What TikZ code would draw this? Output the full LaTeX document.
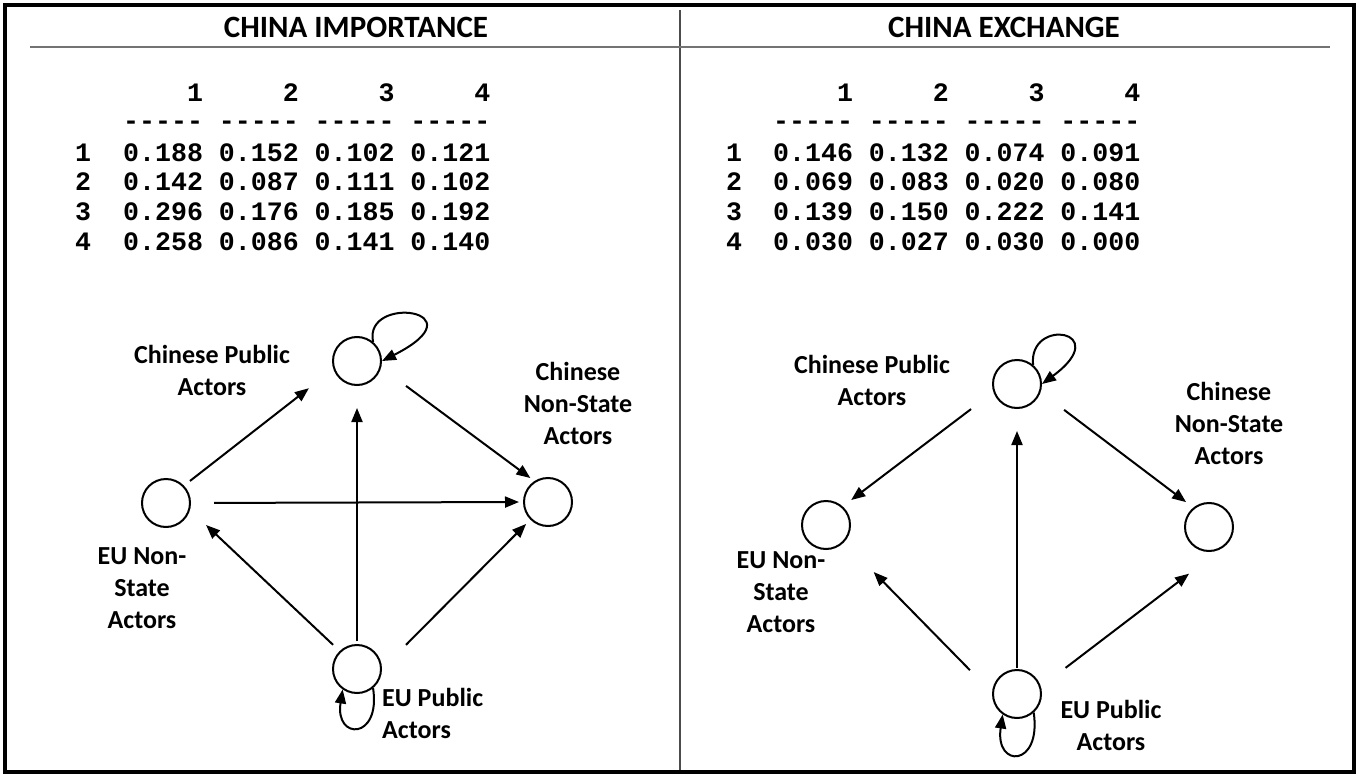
\documentclass[tikz,border=0pt]{standalone}
\usepackage{fontspec}
\newfontfamily\lblfont{Carlito}
\newfontfamily\tabfont{Liberation Mono}
\usetikzlibrary{arrows.meta}
\newcommand\dsh{-\kern0pt-\kern0pt-\kern0pt-\kern0pt-}
\newcommand\hd[1]{\hphantom{0.18}#1}
\begin{document}
\begin{tikzpicture}[x=1pt,y=-1pt,
 nd/.style={circle,draw,line width=2pt,minimum size=48pt,inner sep=0pt},
 ed/.style={line width=2pt,-{Triangle[length=14pt,width=11pt]}},
 lab/.style={font=\lblfont\bfseries\fontsize{26}{32}\selectfont,align=center,inner sep=0pt},
 ttl/.style={font=\lblfont\bfseries\fontsize{31}{36}\selectfont,inner sep=0pt,anchor=base},
 tab/.style={font=\tabfont\bfseries\fontsize{26.6}{30}\selectfont,inner sep=0pt,anchor=base west},
 rl/.style={font=\tabfont\bfseries\fontsize{26.6}{30}\selectfont,inner sep=0pt,anchor=base},
 rulel/.style={line width=2pt,color=black!55}]
\useasboundingbox (0,0) rectangle (1359,778);
% frame and dividers
\draw[line width=4pt] (5,5) rectangle (1354,772);
\draw[line width=1.6pt,color=black!70] (680,10) -- (680,770);
\draw[rulel] (30,47) -- (680,47);
\draw[rulel] (680,47) -- (1330,47);
% titles
\node[ttl] (t1) at (356,38) {CHINA IMPORTANCE};
\node[ttl] (t2) at (1004,38) {CHINA EXCHANGE};
% left table
\node[tab] (lh) at (123,102) {\hd1 \hd2 \hd3 \hd4};
\node[tab] (ld) at (123,130) {\dsh\ \dsh\ \dsh\ \dsh};
\node[tab] (lr1) at (123,162) {0.188 0.152 0.102 0.121};
\node[tab] (lr2) at (123,191) {0.142 0.087 0.111 0.102};
\node[tab] (lr3) at (123,220) {0.296 0.176 0.185 0.192};
\node[tab] (lr4) at (123,250) {0.258 0.086 0.141 0.140};
\node[rl] (ll1) at (83,162) {1};
\node[rl] (ll2) at (83,191) {2};
\node[rl] (ll3) at (83,220) {3};
\node[rl] (ll4) at (83,250) {4};
% right table
\node[tab] (rh) at (773,102) {\hd1 \hd2 \hd3 \hd4};
\node[tab] (rd) at (773,130) {\dsh\ \dsh\ \dsh\ \dsh};
\node[tab] (rr1) at (773,162) {0.146 0.132 0.074 0.091};
\node[tab] (rr2) at (773,191) {0.069 0.083 0.020 0.080};
\node[tab] (rr3) at (773,220) {0.139 0.150 0.222 0.141};
\node[tab] (rr4) at (773,250) {0.030 0.027 0.030 0.000};
\node[rl] (rl1) at (734,162) {1};
\node[rl] (rl2) at (734,191) {2};
\node[rl] (rl3) at (734,220) {3};
\node[rl] (rl4) at (734,250) {4};
% left graph nodes
\node[nd] (lcp) at (357,361) {};
\node[nd] (leuns) at (166,503) {};
\node[nd] (lcns) at (548,502) {};
\node[nd] (leup) at (357,669) {};
\node[lab] (lcpl) at (212,370) {Chinese Public\\Actors};
\node[lab] (lcnsl) at (578,403) {Chinese\\Non-State\\Actors};
\node[lab] (leunsl) at (142,588) {EU Non-\\State\\Actors};
\node[lab,align=left,anchor=west] (leupl) at (382,713) {EU Public\\Actors};
% left graph edges
\draw[ed,shorten <=7.6pt,shorten >=31pt] (leuns.44) -- (lcp.-161);
\draw[ed,shorten <=31pt,shorten >=5pt] (lcp.-15) -- (lcns.123);
\draw[ed,shorten <=23pt,shorten >=4pt] (leuns.0) -- (lcns.180);
\draw[ed,shorten <=3pt,shorten >=22pt] (leup.90) -- (lcp.-90);
\draw[ed,shorten <=9pt,shorten >=22pt] (leup.134) -- (leuns.-16);
\draw[ed,shorten <=34pt,shorten >=6pt] (leup.0) -- (lcns.-135);
\draw[ed] (lcp.50) .. controls +(-10,-48) and +(101,-51) .. (lcp.0);
\draw[ed] (leup.-50) .. controls +(8,52) and +(-8,51) .. (leup.-125);
% right graph nodes
\node[nd] (rcp) at (1017,384) {};
\node[nd] (reuns) at (826,525) {};
\node[nd] (rcns) at (1209,527) {};
\node[nd] (reup) at (1017,694) {};
\node[lab] (rcpl) at (872,380) {Chinese Public\\Actors};
\node[lab] (rcnsl) at (1229,423) {Chinese\\Non-State\\Actors};
\node[lab] (reunsl) at (781,592) {EU Non-\\State\\Actors};
\node[lab] (reupl) at (1111,725) {EU Public\\Actors};
% right graph edges
\draw[ed,shorten <=28pt,shorten >=10.6pt] (rcp.-161) -- (reuns.48);
\draw[ed,shorten <=29.4pt,shorten >=9pt] (rcp.-19.5) -- (rcns.129);
\draw[ed,shorten <=1pt,shorten >=22pt] (reup.90) -- (rcp.-90);
\draw[ed,shorten <=31.5pt,shorten >=42pt] (reup.177) -- (reuns.-43);
\draw[ed,shorten <=31pt,shorten >=44pt] (reup.17) -- (rcns.-53);
\draw[ed] (rcp.50) .. controls +(-5,-48) and +(73,-54) .. (rcp.0);
\draw[ed] (reup.-48) .. controls +(8,55) and +(-8,54) .. (reup.-125);
\end{tikzpicture}
\end{document}
